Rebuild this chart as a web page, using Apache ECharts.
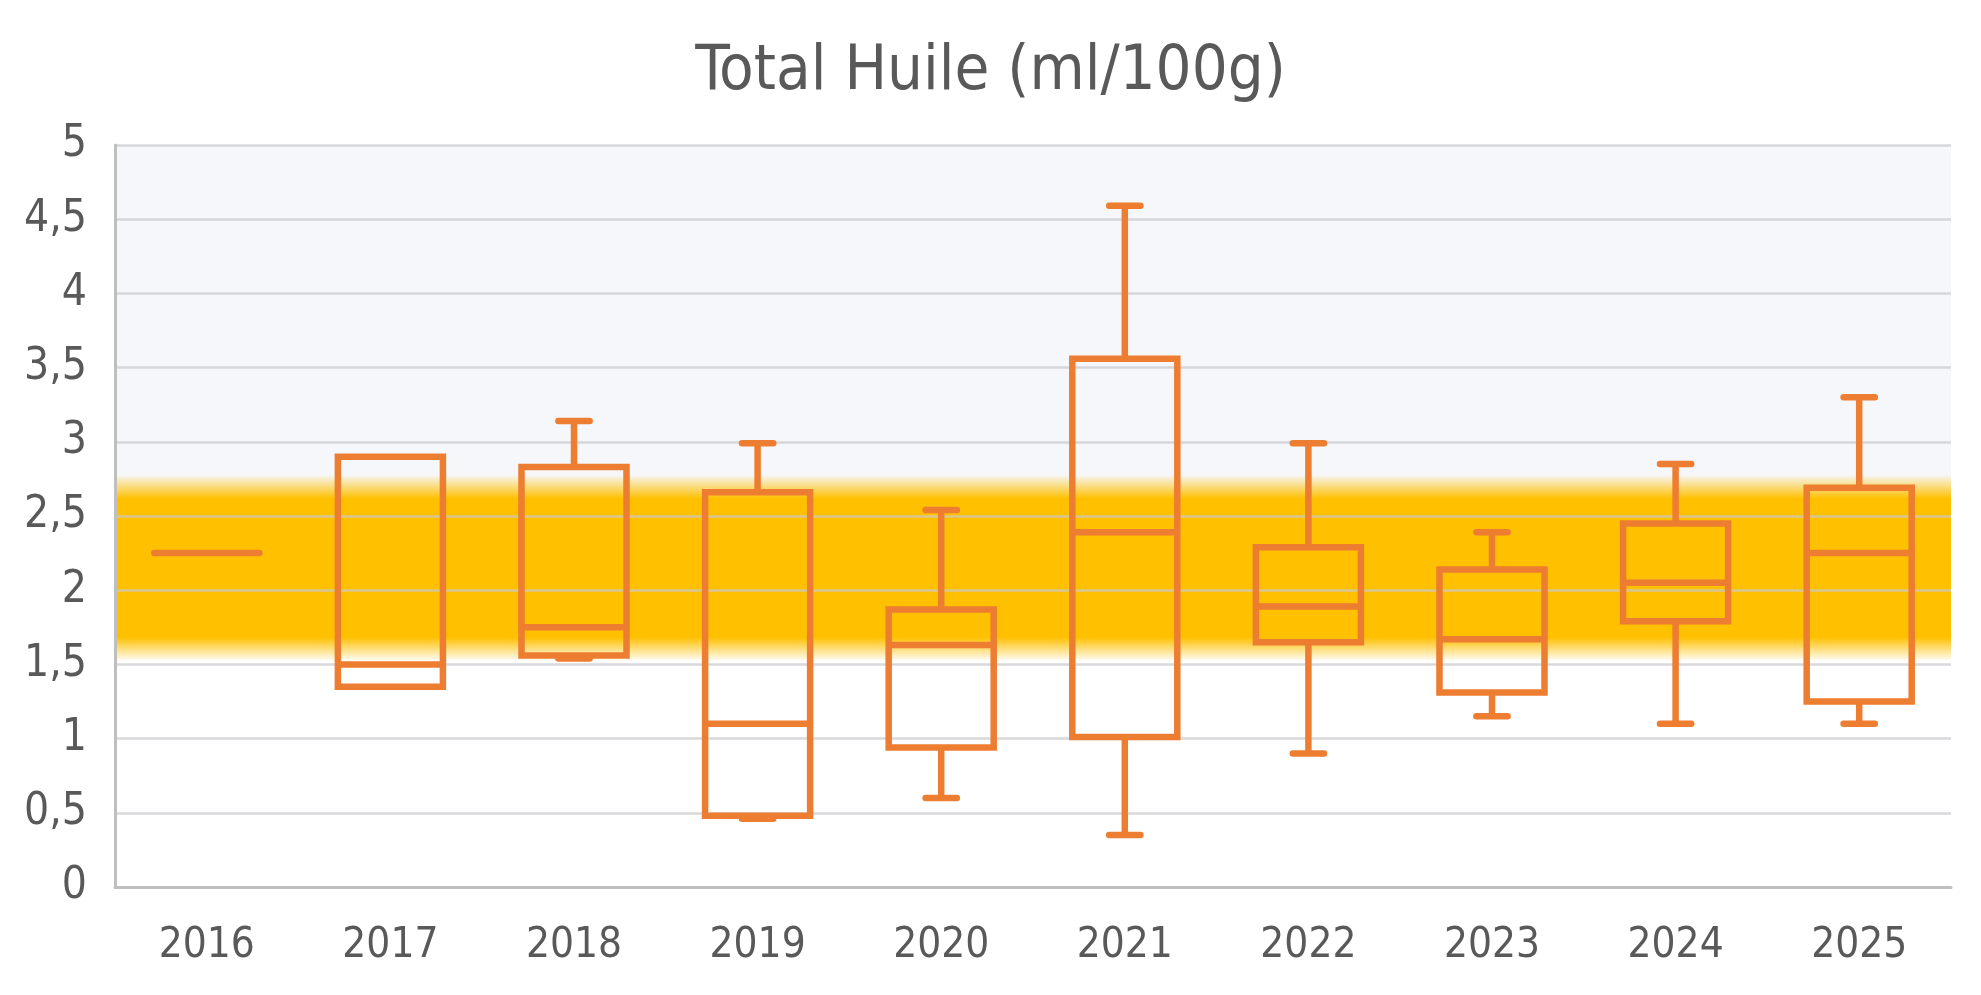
<!DOCTYPE html>
<html>
<head>
<meta charset="utf-8">
<title>Total Huile (ml/100g)</title>
<script src="https://cdn.jsdelivr.net/npm/echarts@6/dist/echarts.min.js"></script>
<style>
  html, body { margin: 0; padding: 0; background: #ffffff; }
  #huile { width: 1981px; height: 995px; }
</style>
</head>
<body>
<div id="huile"></div>
<script>
// valeurs
var years = ['2016', '2017', '2018', '2019', '2020', '2021', '2022', '2023', '2024', '2025'];
var minVals = [2.25, 1.35, 1.54, 0.46, 0.60, 0.35, 0.90, 1.15, 1.10, 1.10];
var q1Vals = [2.25, 1.35, 1.56, 0.48, 0.94, 1.01, 1.65, 1.31, 1.79, 1.25];
var medianVals = [2.25, 1.50, 1.75, 1.10, 1.63, 2.39, 1.89, 1.67, 2.05, 2.25];
var q3Vals = [2.25, 2.90, 2.83, 2.66, 1.87, 3.56, 2.29, 2.14, 2.45, 2.69];
var maxVals = [2.25, 2.90, 3.14, 2.99, 2.54, 4.59, 2.99, 2.39, 2.85, 3.30];
// zone cible (bande jaune)
var bandLow = 1.52, bandHigh = 2.78;

var boxData = years.map(function (y, i) {
    return [i, minVals[i], q1Vals[i], medianVals[i], q3Vals[i], maxVals[i]];
});

var orange = '#ED7D31';
var txt = '#595959';
var font = "'DejaVu Sans Condensed', 'DejaVu Sans', sans-serif";

function renderBox(params, api) {
    var i = api.value(0);
    var lo = api.coord([i, api.value(1)]);
    var q1 = api.coord([i, api.value(2)]);
    var med = api.coord([i, api.value(3)]);
    var q3 = api.coord([i, api.value(4)]);
    var hi = api.coord([i, api.value(5)]);
    var cw = api.size([1, 0])[0];
    var bw = cw * 0.572;
    var cap = cw * 0.085;
    var x = med[0];
    var lineStyle = { stroke: orange, lineWidth: 6.5, fill: null };
    var capStyle = { stroke: orange, lineWidth: 6.5, lineCap: 'round' };
    var kids = [];

    if (api.value(1) === api.value(5)) {
        kids.push({ type: 'line', shape: { x1: x - bw / 2, y1: med[1], x2: x + bw / 2, y2: med[1] }, style: capStyle });
        return { type: 'group', children: kids };
    }
    if (api.value(5) > api.value(4)) {
        kids.push({ type: 'line', shape: { x1: x, y1: hi[1], x2: x, y2: q3[1] }, style: lineStyle });
        kids.push({ type: 'line', shape: { x1: x - cap, y1: hi[1], x2: x + cap, y2: hi[1] }, style: capStyle });
    }
    if (api.value(1) < api.value(2)) {
        kids.push({ type: 'line', shape: { x1: x, y1: q1[1], x2: x, y2: lo[1] }, style: lineStyle });
        kids.push({ type: 'line', shape: { x1: x - cap, y1: lo[1], x2: x + cap, y2: lo[1] }, style: capStyle });
    }
    kids.push({ type: 'rect', shape: { x: x - bw / 2, y: q3[1], width: bw, height: q1[1] - q3[1] }, style: lineStyle });
    kids.push({ type: 'line', shape: { x1: x - bw / 2, y1: med[1], x2: x + bw / 2, y2: med[1] }, style: lineStyle });
    return { type: 'group', children: kids };
}

var mychart = echarts.init(document.getElementById('huile'));

option = {
    backgroundColor: '#ffffff',
    title: {
        text: 'Total Huile (ml/100g)',
        left: 'center',
        top: 36,
        textStyle: {
            fontFamily: font,
            fontSize: 63,
            fontWeight: 'normal',
            color: txt
        }
    },
    grid: {
        left: 115,
        right: 30,
        top: 145,
        bottom: 108
    },
    xAxis: {
        type: 'category',
        data: years,
        boundaryGap: true,
        axisLine: { lineStyle: { color: '#BFBFBF', width: 3 } },
        axisTick: { show: false },
        axisLabel: {
            color: txt,
            fontFamily: font,
            fontSize: 42,
            margin: 38
        },
        splitLine: { show: false }
    },
    yAxis: {
        type: 'value',
        min: 0,
        max: 5,
        interval: 0.5,
        axisLine: { show: true, lineStyle: { color: '#BFBFBF', width: 3 } },
        axisTick: { show: false },
        axisLabel: {
            color: txt,
            fontFamily: font,
            fontSize: 44,
            margin: 28,
            verticalAlign: 'middle',
            padding: [12, 0, 0, 0],
            formatter: function (v) { return String(v).replace('.', ','); }
        },
        splitLine: { lineStyle: { color: 'rgba(200,200,206,0.7)', width: 2.5 } }
    },
    series: [
        {
            name: 'fond',
            type: 'line',
            data: [],
            z: -1,
            silent: true,
            markArea: {
                silent: true,
                z: -1,
                data: [
                    [
                        { yAxis: bandLow + 1.1, itemStyle: { color: '#F6F7FA' } },
                        { yAxis: 5 }
                    ],
                    [
                        {
                            yAxis: bandLow,
                            itemStyle: {
                                color: {
                                    type: 'linear', x: 0, y: 0, x2: 0, y2: 1,
                                    colorStops: [
                                        { offset: 0, color: 'rgba(255,192,0,0)' },
                                        { offset: 0.13, color: 'rgba(255,192,0,1)' },
                                        { offset: 0.87, color: 'rgba(255,192,0,1)' },
                                        { offset: 1, color: 'rgba(255,192,0,0)' }
                                    ]
                                }
                            }
                        },
                        { yAxis: bandHigh }
                    ]
                ]
            }
        },
        {
            name: 'Total Huile',
            type: 'custom',
            renderItem: renderBox,
            encode: { x: 0, y: [1, 2, 3, 4, 5] },
            data: boxData,
            z: 3
        }
    ]
};
mychart.setOption(option, true);
</script>
</body>
</html>
